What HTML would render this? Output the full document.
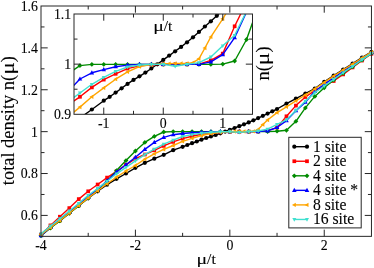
<!DOCTYPE html>
<html><head><meta charset="utf-8"><title>chart</title>
<style>
html,body{margin:0;padding:0;background:#fff;}
svg{display:block;will-change:transform;}
text{font-family:"Liberation Serif",serif;fill:#000;stroke:#000;stroke-width:0.1px;}
</style></head><body>
<svg width="374" height="268" viewBox="0 0 374 268">
<rect width="374" height="268" fill="#fff"/>
<defs>
<clipPath id="cm"><rect x="38.5" y="6.0" width="335.45" height="232.85"/></clipPath>
<clipPath id="ci"><rect x="74.0" y="14.0" width="178.5" height="100.3"/></clipPath>
</defs>
<g clip-path="url(#cm)">
<polyline points="41.00,235.20 50.44,227.70 59.88,220.70 69.32,213.30 78.77,205.80 88.21,198.30 97.65,191.30 107.09,184.70 116.53,178.80 125.97,173.50 135.41,167.80 144.86,162.80 154.30,158.70 163.74,154.80 173.18,150.20 182.62,146.80 187.34,145.00 192.06,143.20 196.78,141.50 201.50,139.70 206.22,138.00 210.95,136.50 215.67,135.00 220.39,133.30 225.11,131.60 229.83,129.80 234.55,128.00 239.27,126.20 243.99,124.30 248.71,122.40 253.43,120.30 258.15,118.10 262.87,115.80 267.59,113.60 272.32,111.30 277.04,109.00 286.48,103.60 295.92,98.60 305.36,93.50 314.80,88.50 324.24,81.90 333.68,75.60 343.13,69.60 352.57,63.70 362.01,57.60 371.45,51.80" fill="none" stroke="#000000" stroke-width="1.4" stroke-linejoin="round"/>
<circle cx="41.00" cy="235.20" r="2.10" fill="#000000"/>
<circle cx="50.44" cy="227.70" r="2.10" fill="#000000"/>
<circle cx="59.88" cy="220.70" r="2.10" fill="#000000"/>
<circle cx="69.32" cy="213.30" r="2.10" fill="#000000"/>
<circle cx="78.77" cy="205.80" r="2.10" fill="#000000"/>
<circle cx="88.21" cy="198.30" r="2.10" fill="#000000"/>
<circle cx="97.65" cy="191.30" r="2.10" fill="#000000"/>
<circle cx="107.09" cy="184.70" r="2.10" fill="#000000"/>
<circle cx="116.53" cy="178.80" r="2.10" fill="#000000"/>
<circle cx="125.97" cy="173.50" r="2.10" fill="#000000"/>
<circle cx="135.41" cy="167.80" r="2.10" fill="#000000"/>
<circle cx="144.86" cy="162.80" r="2.10" fill="#000000"/>
<circle cx="154.30" cy="158.70" r="2.10" fill="#000000"/>
<circle cx="163.74" cy="154.80" r="2.10" fill="#000000"/>
<circle cx="173.18" cy="150.20" r="2.10" fill="#000000"/>
<circle cx="182.62" cy="146.80" r="2.10" fill="#000000"/>
<circle cx="187.34" cy="145.00" r="2.10" fill="#000000"/>
<circle cx="192.06" cy="143.20" r="2.10" fill="#000000"/>
<circle cx="196.78" cy="141.50" r="2.10" fill="#000000"/>
<circle cx="201.50" cy="139.70" r="2.10" fill="#000000"/>
<circle cx="206.22" cy="138.00" r="2.10" fill="#000000"/>
<circle cx="210.95" cy="136.50" r="2.10" fill="#000000"/>
<circle cx="215.67" cy="135.00" r="2.10" fill="#000000"/>
<circle cx="220.39" cy="133.30" r="2.10" fill="#000000"/>
<circle cx="225.11" cy="131.60" r="2.10" fill="#000000"/>
<circle cx="229.83" cy="129.80" r="2.10" fill="#000000"/>
<circle cx="234.55" cy="128.00" r="2.10" fill="#000000"/>
<circle cx="239.27" cy="126.20" r="2.10" fill="#000000"/>
<circle cx="243.99" cy="124.30" r="2.10" fill="#000000"/>
<circle cx="248.71" cy="122.40" r="2.10" fill="#000000"/>
<circle cx="253.43" cy="120.30" r="2.10" fill="#000000"/>
<circle cx="258.15" cy="118.10" r="2.10" fill="#000000"/>
<circle cx="262.87" cy="115.80" r="2.10" fill="#000000"/>
<circle cx="267.59" cy="113.60" r="2.10" fill="#000000"/>
<circle cx="272.32" cy="111.30" r="2.10" fill="#000000"/>
<circle cx="277.04" cy="109.00" r="2.10" fill="#000000"/>
<circle cx="286.48" cy="103.60" r="2.10" fill="#000000"/>
<circle cx="295.92" cy="98.60" r="2.10" fill="#000000"/>
<circle cx="305.36" cy="93.50" r="2.10" fill="#000000"/>
<circle cx="314.80" cy="88.50" r="2.10" fill="#000000"/>
<circle cx="324.24" cy="81.90" r="2.10" fill="#000000"/>
<circle cx="333.68" cy="75.60" r="2.10" fill="#000000"/>
<circle cx="343.13" cy="69.60" r="2.10" fill="#000000"/>
<circle cx="352.57" cy="63.70" r="2.10" fill="#000000"/>
<circle cx="362.01" cy="57.60" r="2.10" fill="#000000"/>
<circle cx="371.45" cy="51.80" r="2.10" fill="#000000"/>
<polyline points="41.00,234.60 50.44,225.40 59.88,216.70 69.32,208.10 78.77,199.10 88.21,191.30 97.65,184.50 107.09,177.60 116.53,171.40 125.97,164.80 135.41,158.60 144.86,154.50 154.30,150.30 163.74,145.90 173.18,141.90 182.62,138.60 192.06,136.20 201.50,134.30 210.95,133.00 220.39,132.30 229.83,131.80 239.27,131.60 248.71,131.60 258.15,131.50 267.59,130.60 277.04,127.60 286.48,116.30 295.92,105.60 305.36,97.00 314.80,90.60 324.24,85.80 333.68,81.00 343.13,74.40 352.57,67.40 362.01,60.50 371.45,53.80" fill="none" stroke="#ff0000" stroke-width="1.4" stroke-linejoin="round"/>
<rect x="39.15" y="232.75" width="3.70" height="3.70" fill="#ff0000"/>
<rect x="48.59" y="223.55" width="3.70" height="3.70" fill="#ff0000"/>
<rect x="58.03" y="214.85" width="3.70" height="3.70" fill="#ff0000"/>
<rect x="67.47" y="206.25" width="3.70" height="3.70" fill="#ff0000"/>
<rect x="76.92" y="197.25" width="3.70" height="3.70" fill="#ff0000"/>
<rect x="86.36" y="189.45" width="3.70" height="3.70" fill="#ff0000"/>
<rect x="95.80" y="182.65" width="3.70" height="3.70" fill="#ff0000"/>
<rect x="105.24" y="175.75" width="3.70" height="3.70" fill="#ff0000"/>
<rect x="114.68" y="169.55" width="3.70" height="3.70" fill="#ff0000"/>
<rect x="124.12" y="162.95" width="3.70" height="3.70" fill="#ff0000"/>
<rect x="133.56" y="156.75" width="3.70" height="3.70" fill="#ff0000"/>
<rect x="143.01" y="152.65" width="3.70" height="3.70" fill="#ff0000"/>
<rect x="152.45" y="148.45" width="3.70" height="3.70" fill="#ff0000"/>
<rect x="161.89" y="144.05" width="3.70" height="3.70" fill="#ff0000"/>
<rect x="171.33" y="140.05" width="3.70" height="3.70" fill="#ff0000"/>
<rect x="180.77" y="136.75" width="3.70" height="3.70" fill="#ff0000"/>
<rect x="190.21" y="134.35" width="3.70" height="3.70" fill="#ff0000"/>
<rect x="199.65" y="132.45" width="3.70" height="3.70" fill="#ff0000"/>
<rect x="209.10" y="131.15" width="3.70" height="3.70" fill="#ff0000"/>
<rect x="218.54" y="130.45" width="3.70" height="3.70" fill="#ff0000"/>
<rect x="227.98" y="129.95" width="3.70" height="3.70" fill="#ff0000"/>
<rect x="237.42" y="129.75" width="3.70" height="3.70" fill="#ff0000"/>
<rect x="246.86" y="129.75" width="3.70" height="3.70" fill="#ff0000"/>
<rect x="256.30" y="129.65" width="3.70" height="3.70" fill="#ff0000"/>
<rect x="265.74" y="128.75" width="3.70" height="3.70" fill="#ff0000"/>
<rect x="275.19" y="125.75" width="3.70" height="3.70" fill="#ff0000"/>
<rect x="284.63" y="114.45" width="3.70" height="3.70" fill="#ff0000"/>
<rect x="294.07" y="103.75" width="3.70" height="3.70" fill="#ff0000"/>
<rect x="303.51" y="95.15" width="3.70" height="3.70" fill="#ff0000"/>
<rect x="312.95" y="88.75" width="3.70" height="3.70" fill="#ff0000"/>
<rect x="322.39" y="83.95" width="3.70" height="3.70" fill="#ff0000"/>
<rect x="331.83" y="79.15" width="3.70" height="3.70" fill="#ff0000"/>
<rect x="341.28" y="72.55" width="3.70" height="3.70" fill="#ff0000"/>
<rect x="350.72" y="65.55" width="3.70" height="3.70" fill="#ff0000"/>
<rect x="360.16" y="58.65" width="3.70" height="3.70" fill="#ff0000"/>
<rect x="369.60" y="51.95" width="3.70" height="3.70" fill="#ff0000"/>
<polyline points="41.00,235.80 50.44,228.00 59.88,220.90 69.32,213.10 78.77,205.60 88.21,197.90 97.65,190.10 107.09,181.20 116.53,170.60 125.97,160.60 135.41,151.00 144.86,142.40 154.30,136.40 163.74,132.00 173.18,131.60 182.62,131.60 192.06,131.60 201.50,131.60 210.95,131.60 220.39,131.60 229.83,131.60 239.27,131.60 248.71,131.60 258.15,131.60 267.59,131.60 277.04,131.20 286.48,130.30 295.92,121.30 305.36,107.90 314.80,96.40 324.24,87.80 333.68,80.00 343.13,73.30 352.57,66.80 362.01,60.00 371.45,53.40" fill="none" stroke="#008b00" stroke-width="1.4" stroke-linejoin="round"/>
<path d="M38.60 235.80L41.00 233.40L43.40 235.80L41.00 238.20Z" fill="#008b00"/>
<path d="M48.04 228.00L50.44 225.60L52.84 228.00L50.44 230.40Z" fill="#008b00"/>
<path d="M57.48 220.90L59.88 218.50L62.28 220.90L59.88 223.30Z" fill="#008b00"/>
<path d="M66.92 213.10L69.32 210.70L71.72 213.10L69.32 215.50Z" fill="#008b00"/>
<path d="M76.37 205.60L78.77 203.20L81.17 205.60L78.77 208.00Z" fill="#008b00"/>
<path d="M85.81 197.90L88.21 195.50L90.61 197.90L88.21 200.30Z" fill="#008b00"/>
<path d="M95.25 190.10L97.65 187.70L100.05 190.10L97.65 192.50Z" fill="#008b00"/>
<path d="M104.69 181.20L107.09 178.80L109.49 181.20L107.09 183.60Z" fill="#008b00"/>
<path d="M114.13 170.60L116.53 168.20L118.93 170.60L116.53 173.00Z" fill="#008b00"/>
<path d="M123.57 160.60L125.97 158.20L128.37 160.60L125.97 163.00Z" fill="#008b00"/>
<path d="M133.01 151.00L135.41 148.60L137.81 151.00L135.41 153.40Z" fill="#008b00"/>
<path d="M142.46 142.40L144.86 140.00L147.26 142.40L144.86 144.80Z" fill="#008b00"/>
<path d="M151.90 136.40L154.30 134.00L156.70 136.40L154.30 138.80Z" fill="#008b00"/>
<path d="M161.34 132.00L163.74 129.60L166.14 132.00L163.74 134.40Z" fill="#008b00"/>
<path d="M170.78 131.60L173.18 129.20L175.58 131.60L173.18 134.00Z" fill="#008b00"/>
<path d="M180.22 131.60L182.62 129.20L185.02 131.60L182.62 134.00Z" fill="#008b00"/>
<path d="M189.66 131.60L192.06 129.20L194.46 131.60L192.06 134.00Z" fill="#008b00"/>
<path d="M199.10 131.60L201.50 129.20L203.90 131.60L201.50 134.00Z" fill="#008b00"/>
<path d="M208.55 131.60L210.95 129.20L213.35 131.60L210.95 134.00Z" fill="#008b00"/>
<path d="M217.99 131.60L220.39 129.20L222.79 131.60L220.39 134.00Z" fill="#008b00"/>
<path d="M227.43 131.60L229.83 129.20L232.23 131.60L229.83 134.00Z" fill="#008b00"/>
<path d="M236.87 131.60L239.27 129.20L241.67 131.60L239.27 134.00Z" fill="#008b00"/>
<path d="M246.31 131.60L248.71 129.20L251.11 131.60L248.71 134.00Z" fill="#008b00"/>
<path d="M255.75 131.60L258.15 129.20L260.55 131.60L258.15 134.00Z" fill="#008b00"/>
<path d="M265.19 131.60L267.59 129.20L269.99 131.60L267.59 134.00Z" fill="#008b00"/>
<path d="M274.64 131.20L277.04 128.80L279.44 131.20L277.04 133.60Z" fill="#008b00"/>
<path d="M284.08 130.30L286.48 127.90L288.88 130.30L286.48 132.70Z" fill="#008b00"/>
<path d="M293.52 121.30L295.92 118.90L298.32 121.30L295.92 123.70Z" fill="#008b00"/>
<path d="M302.96 107.90L305.36 105.50L307.76 107.90L305.36 110.30Z" fill="#008b00"/>
<path d="M312.40 96.40L314.80 94.00L317.20 96.40L314.80 98.80Z" fill="#008b00"/>
<path d="M321.84 87.80L324.24 85.40L326.64 87.80L324.24 90.20Z" fill="#008b00"/>
<path d="M331.28 80.00L333.68 77.60L336.08 80.00L333.68 82.40Z" fill="#008b00"/>
<path d="M340.73 73.30L343.13 70.90L345.53 73.30L343.13 75.70Z" fill="#008b00"/>
<path d="M350.17 66.80L352.57 64.40L354.97 66.80L352.57 69.20Z" fill="#008b00"/>
<path d="M359.61 60.00L362.01 57.60L364.41 60.00L362.01 62.40Z" fill="#008b00"/>
<path d="M369.05 53.40L371.45 51.00L373.85 53.40L371.45 55.80Z" fill="#008b00"/>
<polyline points="41.00,235.60 50.44,227.30 59.88,219.40 69.32,211.90 78.77,204.30 88.21,196.70 97.65,189.20 107.09,180.70 116.53,172.00 125.97,164.70 135.41,157.20 144.86,149.40 154.30,142.40 163.74,137.30 173.18,134.70 182.62,133.50 192.06,132.80 201.50,132.20 210.95,131.80 220.39,131.60 229.83,131.60 239.27,131.60 248.71,131.60 258.15,131.60 267.59,130.80 277.04,127.50 286.48,120.60 295.92,110.70 305.36,102.20 314.80,91.20 324.24,84.20 333.68,77.80 343.13,71.20 352.57,64.80 362.01,58.60 371.45,52.60" fill="none" stroke="#0000ff" stroke-width="1.4" stroke-linejoin="round"/>
<path d="M38.70 237.21L43.30 237.21L41.00 233.07Z" fill="#0000ff"/>
<path d="M48.14 228.91L52.74 228.91L50.44 224.77Z" fill="#0000ff"/>
<path d="M57.58 221.01L62.18 221.01L59.88 216.87Z" fill="#0000ff"/>
<path d="M67.02 213.51L71.62 213.51L69.32 209.37Z" fill="#0000ff"/>
<path d="M76.47 205.91L81.07 205.91L78.77 201.77Z" fill="#0000ff"/>
<path d="M85.91 198.31L90.51 198.31L88.21 194.17Z" fill="#0000ff"/>
<path d="M95.35 190.81L99.95 190.81L97.65 186.67Z" fill="#0000ff"/>
<path d="M104.79 182.31L109.39 182.31L107.09 178.17Z" fill="#0000ff"/>
<path d="M114.23 173.61L118.83 173.61L116.53 169.47Z" fill="#0000ff"/>
<path d="M123.67 166.31L128.27 166.31L125.97 162.17Z" fill="#0000ff"/>
<path d="M133.11 158.81L137.71 158.81L135.41 154.67Z" fill="#0000ff"/>
<path d="M142.56 151.01L147.16 151.01L144.86 146.87Z" fill="#0000ff"/>
<path d="M152.00 144.01L156.60 144.01L154.30 139.87Z" fill="#0000ff"/>
<path d="M161.44 138.91L166.04 138.91L163.74 134.77Z" fill="#0000ff"/>
<path d="M170.88 136.31L175.48 136.31L173.18 132.17Z" fill="#0000ff"/>
<path d="M180.32 135.11L184.92 135.11L182.62 130.97Z" fill="#0000ff"/>
<path d="M189.76 134.41L194.36 134.41L192.06 130.27Z" fill="#0000ff"/>
<path d="M199.20 133.81L203.80 133.81L201.50 129.67Z" fill="#0000ff"/>
<path d="M208.65 133.41L213.25 133.41L210.95 129.27Z" fill="#0000ff"/>
<path d="M218.09 133.21L222.69 133.21L220.39 129.07Z" fill="#0000ff"/>
<path d="M227.53 133.21L232.13 133.21L229.83 129.07Z" fill="#0000ff"/>
<path d="M236.97 133.21L241.57 133.21L239.27 129.07Z" fill="#0000ff"/>
<path d="M246.41 133.21L251.01 133.21L248.71 129.07Z" fill="#0000ff"/>
<path d="M255.85 133.21L260.45 133.21L258.15 129.07Z" fill="#0000ff"/>
<path d="M265.29 132.41L269.89 132.41L267.59 128.27Z" fill="#0000ff"/>
<path d="M274.74 129.11L279.34 129.11L277.04 124.97Z" fill="#0000ff"/>
<path d="M284.18 122.21L288.78 122.21L286.48 118.07Z" fill="#0000ff"/>
<path d="M293.62 112.31L298.22 112.31L295.92 108.17Z" fill="#0000ff"/>
<path d="M303.06 103.81L307.66 103.81L305.36 99.67Z" fill="#0000ff"/>
<path d="M312.50 92.81L317.10 92.81L314.80 88.67Z" fill="#0000ff"/>
<path d="M321.94 85.81L326.54 85.81L324.24 81.67Z" fill="#0000ff"/>
<path d="M331.38 79.41L335.98 79.41L333.68 75.27Z" fill="#0000ff"/>
<path d="M340.83 72.81L345.43 72.81L343.13 68.67Z" fill="#0000ff"/>
<path d="M350.27 66.41L354.87 66.41L352.57 62.27Z" fill="#0000ff"/>
<path d="M359.71 60.21L364.31 60.21L362.01 56.07Z" fill="#0000ff"/>
<path d="M369.15 54.21L373.75 54.21L371.45 50.07Z" fill="#0000ff"/>
<polyline points="41.00,234.70 50.44,227.50 59.88,220.50 69.32,213.00 78.77,205.50 88.21,197.90 97.65,190.80 107.09,183.80 116.53,177.10 125.97,171.00 135.41,165.50 144.86,159.20 154.30,153.80 163.74,149.40 173.18,145.50 182.62,141.40 192.06,138.30 201.50,135.50 210.95,133.50 220.39,132.30 229.83,131.70 234.55,131.50 239.27,131.50 243.99,131.50 248.71,131.50 253.43,131.30 258.15,129.50 262.87,124.60 267.59,120.00 277.04,112.60 286.48,106.80 295.92,100.90 305.36,95.00 314.80,89.00 324.24,82.40 333.68,76.10 343.13,70.00 352.57,64.10 362.01,58.00 371.45,52.10" fill="none" stroke="#ffa500" stroke-width="1.4" stroke-linejoin="round"/>
<path d="M42.51 232.55L42.51 236.85L38.63 234.70Z" fill="#ffa500"/>
<path d="M51.95 225.35L51.95 229.65L48.08 227.50Z" fill="#ffa500"/>
<path d="M61.39 218.35L61.39 222.65L57.52 220.50Z" fill="#ffa500"/>
<path d="M70.83 210.85L70.83 215.15L66.96 213.00Z" fill="#ffa500"/>
<path d="M80.27 203.35L80.27 207.65L76.40 205.50Z" fill="#ffa500"/>
<path d="M89.71 195.75L89.71 200.05L85.84 197.90Z" fill="#ffa500"/>
<path d="M99.15 188.65L99.15 192.95L95.28 190.80Z" fill="#ffa500"/>
<path d="M108.59 181.65L108.59 185.95L104.72 183.80Z" fill="#ffa500"/>
<path d="M118.04 174.95L118.04 179.25L114.17 177.10Z" fill="#ffa500"/>
<path d="M127.48 168.85L127.48 173.15L123.61 171.00Z" fill="#ffa500"/>
<path d="M136.92 163.35L136.92 167.65L133.05 165.50Z" fill="#ffa500"/>
<path d="M146.36 157.05L146.36 161.35L142.49 159.20Z" fill="#ffa500"/>
<path d="M155.80 151.65L155.80 155.95L151.93 153.80Z" fill="#ffa500"/>
<path d="M165.24 147.25L165.24 151.55L161.37 149.40Z" fill="#ffa500"/>
<path d="M174.68 143.35L174.68 147.65L170.81 145.50Z" fill="#ffa500"/>
<path d="M184.13 139.25L184.13 143.55L180.26 141.40Z" fill="#ffa500"/>
<path d="M193.57 136.15L193.57 140.45L189.70 138.30Z" fill="#ffa500"/>
<path d="M203.01 133.35L203.01 137.65L199.14 135.50Z" fill="#ffa500"/>
<path d="M212.45 131.35L212.45 135.65L208.58 133.50Z" fill="#ffa500"/>
<path d="M221.89 130.15L221.89 134.45L218.02 132.30Z" fill="#ffa500"/>
<path d="M231.33 129.55L231.33 133.85L227.46 131.70Z" fill="#ffa500"/>
<path d="M236.05 129.35L236.05 133.65L232.18 131.50Z" fill="#ffa500"/>
<path d="M240.78 129.35L240.78 133.65L236.91 131.50Z" fill="#ffa500"/>
<path d="M245.50 129.35L245.50 133.65L241.63 131.50Z" fill="#ffa500"/>
<path d="M250.22 129.35L250.22 133.65L246.35 131.50Z" fill="#ffa500"/>
<path d="M254.94 129.15L254.94 133.45L251.07 131.30Z" fill="#ffa500"/>
<path d="M259.66 127.35L259.66 131.65L255.79 129.50Z" fill="#ffa500"/>
<path d="M264.38 122.45L264.38 126.75L260.51 124.60Z" fill="#ffa500"/>
<path d="M269.10 117.85L269.10 122.15L265.23 120.00Z" fill="#ffa500"/>
<path d="M278.54 110.45L278.54 114.75L274.67 112.60Z" fill="#ffa500"/>
<path d="M287.98 104.65L287.98 108.95L284.11 106.80Z" fill="#ffa500"/>
<path d="M297.42 98.75L297.42 103.05L293.55 100.90Z" fill="#ffa500"/>
<path d="M306.86 92.85L306.86 97.15L302.99 95.00Z" fill="#ffa500"/>
<path d="M316.31 86.85L316.31 91.15L312.44 89.00Z" fill="#ffa500"/>
<path d="M325.75 80.25L325.75 84.55L321.88 82.40Z" fill="#ffa500"/>
<path d="M335.19 73.95L335.19 78.25L331.32 76.10Z" fill="#ffa500"/>
<path d="M344.63 67.85L344.63 72.15L340.76 70.00Z" fill="#ffa500"/>
<path d="M354.07 61.95L354.07 66.25L350.20 64.10Z" fill="#ffa500"/>
<path d="M363.51 55.85L363.51 60.15L359.64 58.00Z" fill="#ffa500"/>
<path d="M372.95 49.95L372.95 54.25L369.08 52.10Z" fill="#ffa500"/>
<polyline points="41.00,233.80 50.44,226.00 59.88,218.60 69.32,211.00 78.77,203.30 88.21,195.30 97.65,188.50 107.09,181.30 116.53,173.80 125.97,167.30 135.41,160.80 144.86,154.60 154.30,149.10 163.74,144.10 173.18,140.20 182.62,136.50 192.06,134.60 201.50,133.20 210.95,132.20 220.39,131.70 229.83,131.60 239.27,132.40 248.71,131.60 258.15,131.00 267.59,129.10 277.04,124.40 286.48,119.80 295.92,110.50 305.36,101.10 314.80,92.80 324.24,86.00 333.68,79.50 343.13,72.80 352.57,66.40 362.01,59.70 371.45,53.40" fill="none" stroke="#40e0d0" stroke-width="1.4" stroke-linejoin="round"/>
<path d="M39.00 232.40L43.00 232.40L41.00 236.00Z" fill="#40e0d0"/>
<path d="M48.44 224.60L52.44 224.60L50.44 228.20Z" fill="#40e0d0"/>
<path d="M57.88 217.20L61.88 217.20L59.88 220.80Z" fill="#40e0d0"/>
<path d="M67.32 209.60L71.32 209.60L69.32 213.20Z" fill="#40e0d0"/>
<path d="M76.77 201.90L80.77 201.90L78.77 205.50Z" fill="#40e0d0"/>
<path d="M86.21 193.90L90.21 193.90L88.21 197.50Z" fill="#40e0d0"/>
<path d="M95.65 187.10L99.65 187.10L97.65 190.70Z" fill="#40e0d0"/>
<path d="M105.09 179.90L109.09 179.90L107.09 183.50Z" fill="#40e0d0"/>
<path d="M114.53 172.40L118.53 172.40L116.53 176.00Z" fill="#40e0d0"/>
<path d="M123.97 165.90L127.97 165.90L125.97 169.50Z" fill="#40e0d0"/>
<path d="M133.41 159.40L137.41 159.40L135.41 163.00Z" fill="#40e0d0"/>
<path d="M142.86 153.20L146.86 153.20L144.86 156.80Z" fill="#40e0d0"/>
<path d="M152.30 147.70L156.30 147.70L154.30 151.30Z" fill="#40e0d0"/>
<path d="M161.74 142.70L165.74 142.70L163.74 146.30Z" fill="#40e0d0"/>
<path d="M171.18 138.80L175.18 138.80L173.18 142.40Z" fill="#40e0d0"/>
<path d="M180.62 135.10L184.62 135.10L182.62 138.70Z" fill="#40e0d0"/>
<path d="M190.06 133.20L194.06 133.20L192.06 136.80Z" fill="#40e0d0"/>
<path d="M199.50 131.80L203.50 131.80L201.50 135.40Z" fill="#40e0d0"/>
<path d="M208.95 130.80L212.95 130.80L210.95 134.40Z" fill="#40e0d0"/>
<path d="M218.39 130.30L222.39 130.30L220.39 133.90Z" fill="#40e0d0"/>
<path d="M227.83 130.20L231.83 130.20L229.83 133.80Z" fill="#40e0d0"/>
<path d="M237.27 131.00L241.27 131.00L239.27 134.60Z" fill="#40e0d0"/>
<path d="M246.71 130.20L250.71 130.20L248.71 133.80Z" fill="#40e0d0"/>
<path d="M256.15 129.60L260.15 129.60L258.15 133.20Z" fill="#40e0d0"/>
<path d="M265.59 127.70L269.59 127.70L267.59 131.30Z" fill="#40e0d0"/>
<path d="M275.04 123.00L279.04 123.00L277.04 126.60Z" fill="#40e0d0"/>
<path d="M284.48 118.40L288.48 118.40L286.48 122.00Z" fill="#40e0d0"/>
<path d="M293.92 109.10L297.92 109.10L295.92 112.70Z" fill="#40e0d0"/>
<path d="M303.36 99.70L307.36 99.70L305.36 103.30Z" fill="#40e0d0"/>
<path d="M312.80 91.40L316.80 91.40L314.80 95.00Z" fill="#40e0d0"/>
<path d="M322.24 84.60L326.24 84.60L324.24 88.20Z" fill="#40e0d0"/>
<path d="M331.68 78.10L335.68 78.10L333.68 81.70Z" fill="#40e0d0"/>
<path d="M341.13 71.40L345.13 71.40L343.13 75.00Z" fill="#40e0d0"/>
<path d="M350.57 65.00L354.57 65.00L352.57 68.60Z" fill="#40e0d0"/>
<path d="M360.01 58.30L364.01 58.30L362.01 61.90Z" fill="#40e0d0"/>
<path d="M369.45 52.00L373.45 52.00L371.45 55.60Z" fill="#40e0d0"/>
</g>
<rect x="74.0" y="14.0" width="178.5" height="100.3" fill="#fff"/>
<g clip-path="url(#ci)">
<polyline points="79.95,118.00 91.85,109.50 103.75,100.70 109.70,96.80 115.65,92.60 121.60,88.30 127.55,83.90 133.50,79.90 139.45,76.30 145.40,72.60 151.35,68.50 157.30,64.30 163.25,59.90 169.20,55.60 175.15,51.30 181.10,46.90 187.05,42.30 193.00,37.30 198.95,31.90 204.90,26.50 210.85,21.30 216.80,15.80 222.75,10.00" fill="none" stroke="#000000" stroke-width="1.4" stroke-linejoin="round"/>
<circle cx="79.95" cy="118.00" r="2.10" fill="#000000"/>
<circle cx="91.85" cy="109.50" r="2.10" fill="#000000"/>
<circle cx="103.75" cy="100.70" r="2.10" fill="#000000"/>
<circle cx="109.70" cy="96.80" r="2.10" fill="#000000"/>
<circle cx="115.65" cy="92.60" r="2.10" fill="#000000"/>
<circle cx="121.60" cy="88.30" r="2.10" fill="#000000"/>
<circle cx="127.55" cy="83.90" r="2.10" fill="#000000"/>
<circle cx="133.50" cy="79.90" r="2.10" fill="#000000"/>
<circle cx="139.45" cy="76.30" r="2.10" fill="#000000"/>
<circle cx="145.40" cy="72.60" r="2.10" fill="#000000"/>
<circle cx="151.35" cy="68.50" r="2.10" fill="#000000"/>
<circle cx="157.30" cy="64.30" r="2.10" fill="#000000"/>
<circle cx="163.25" cy="59.90" r="2.10" fill="#000000"/>
<circle cx="169.20" cy="55.60" r="2.10" fill="#000000"/>
<circle cx="175.15" cy="51.30" r="2.10" fill="#000000"/>
<circle cx="181.10" cy="46.90" r="2.10" fill="#000000"/>
<circle cx="187.05" cy="42.30" r="2.10" fill="#000000"/>
<circle cx="193.00" cy="37.30" r="2.10" fill="#000000"/>
<circle cx="198.95" cy="31.90" r="2.10" fill="#000000"/>
<circle cx="204.90" cy="26.50" r="2.10" fill="#000000"/>
<circle cx="210.85" cy="21.30" r="2.10" fill="#000000"/>
<circle cx="216.80" cy="15.80" r="2.10" fill="#000000"/>
<circle cx="222.75" cy="10.00" r="2.10" fill="#000000"/>
<polyline points="68.05,104.80 79.95,96.80 91.85,87.40 103.75,79.60 115.65,73.80 127.55,68.60 139.45,65.70 151.35,64.80 163.25,64.40 175.15,64.40 187.05,64.40 198.95,64.20 210.85,60.30 222.75,53.60 234.65,26.30 246.55,2.00" fill="none" stroke="#ff0000" stroke-width="1.4" stroke-linejoin="round"/>
<rect x="66.20" y="102.95" width="3.70" height="3.70" fill="#ff0000"/>
<rect x="78.10" y="94.95" width="3.70" height="3.70" fill="#ff0000"/>
<rect x="90.00" y="85.55" width="3.70" height="3.70" fill="#ff0000"/>
<rect x="101.90" y="77.75" width="3.70" height="3.70" fill="#ff0000"/>
<rect x="113.80" y="71.95" width="3.70" height="3.70" fill="#ff0000"/>
<rect x="125.70" y="66.75" width="3.70" height="3.70" fill="#ff0000"/>
<rect x="137.60" y="63.85" width="3.70" height="3.70" fill="#ff0000"/>
<rect x="149.50" y="62.95" width="3.70" height="3.70" fill="#ff0000"/>
<rect x="161.40" y="62.55" width="3.70" height="3.70" fill="#ff0000"/>
<rect x="173.30" y="62.55" width="3.70" height="3.70" fill="#ff0000"/>
<rect x="185.20" y="62.55" width="3.70" height="3.70" fill="#ff0000"/>
<rect x="197.10" y="62.35" width="3.70" height="3.70" fill="#ff0000"/>
<rect x="209.00" y="58.45" width="3.70" height="3.70" fill="#ff0000"/>
<rect x="220.90" y="51.75" width="3.70" height="3.70" fill="#ff0000"/>
<rect x="232.80" y="24.45" width="3.70" height="3.70" fill="#ff0000"/>
<rect x="244.70" y="0.15" width="3.70" height="3.70" fill="#ff0000"/>
<polyline points="68.05,73.60 79.95,65.60 91.85,64.40 103.75,64.40 115.65,64.40 127.55,64.40 139.45,64.40 151.35,64.40 163.25,64.40 175.15,64.40 187.05,64.40 198.95,64.40 210.85,64.40 222.75,64.10 234.65,61.00 246.55,39.50 258.45,6.10" fill="none" stroke="#008b00" stroke-width="1.4" stroke-linejoin="round"/>
<path d="M65.65 73.60L68.05 71.20L70.45 73.60L68.05 76.00Z" fill="#008b00"/>
<path d="M77.55 65.60L79.95 63.20L82.35 65.60L79.95 68.00Z" fill="#008b00"/>
<path d="M89.45 64.40L91.85 62.00L94.25 64.40L91.85 66.80Z" fill="#008b00"/>
<path d="M101.35 64.40L103.75 62.00L106.15 64.40L103.75 66.80Z" fill="#008b00"/>
<path d="M113.25 64.40L115.65 62.00L118.05 64.40L115.65 66.80Z" fill="#008b00"/>
<path d="M125.15 64.40L127.55 62.00L129.95 64.40L127.55 66.80Z" fill="#008b00"/>
<path d="M137.05 64.40L139.45 62.00L141.85 64.40L139.45 66.80Z" fill="#008b00"/>
<path d="M148.95 64.40L151.35 62.00L153.75 64.40L151.35 66.80Z" fill="#008b00"/>
<path d="M160.85 64.40L163.25 62.00L165.65 64.40L163.25 66.80Z" fill="#008b00"/>
<path d="M172.75 64.40L175.15 62.00L177.55 64.40L175.15 66.80Z" fill="#008b00"/>
<path d="M184.65 64.40L187.05 62.00L189.45 64.40L187.05 66.80Z" fill="#008b00"/>
<path d="M196.55 64.40L198.95 62.00L201.35 64.40L198.95 66.80Z" fill="#008b00"/>
<path d="M208.45 64.40L210.85 62.00L213.25 64.40L210.85 66.80Z" fill="#008b00"/>
<path d="M220.35 64.10L222.75 61.70L225.15 64.10L222.75 66.50Z" fill="#008b00"/>
<path d="M232.25 61.00L234.65 58.60L237.05 61.00L234.65 63.40Z" fill="#008b00"/>
<path d="M244.15 39.50L246.55 37.10L248.95 39.50L246.55 41.90Z" fill="#008b00"/>
<path d="M256.05 6.10L258.45 3.70L260.85 6.10L258.45 8.50Z" fill="#008b00"/>
<polyline points="68.05,91.60 79.95,79.00 91.85,72.80 103.75,69.60 115.65,66.70 127.55,65.10 139.45,64.40 151.35,64.40 163.25,64.40 175.15,64.40 187.05,64.40 198.95,64.40 210.85,61.90 222.75,54.70 234.65,37.60 246.55,11.90 258.45,-13.00" fill="none" stroke="#0000ff" stroke-width="1.4" stroke-linejoin="round"/>
<path d="M65.75 93.21L70.35 93.21L68.05 89.07Z" fill="#0000ff"/>
<path d="M77.65 80.61L82.25 80.61L79.95 76.47Z" fill="#0000ff"/>
<path d="M89.55 74.41L94.15 74.41L91.85 70.27Z" fill="#0000ff"/>
<path d="M101.45 71.21L106.05 71.21L103.75 67.07Z" fill="#0000ff"/>
<path d="M113.35 68.31L117.95 68.31L115.65 64.17Z" fill="#0000ff"/>
<path d="M125.25 66.71L129.85 66.71L127.55 62.57Z" fill="#0000ff"/>
<path d="M137.15 66.01L141.75 66.01L139.45 61.87Z" fill="#0000ff"/>
<path d="M149.05 66.01L153.65 66.01L151.35 61.87Z" fill="#0000ff"/>
<path d="M160.95 66.01L165.55 66.01L163.25 61.87Z" fill="#0000ff"/>
<path d="M172.85 66.01L177.45 66.01L175.15 61.87Z" fill="#0000ff"/>
<path d="M184.75 66.01L189.35 66.01L187.05 61.87Z" fill="#0000ff"/>
<path d="M196.65 66.01L201.25 66.01L198.95 61.87Z" fill="#0000ff"/>
<path d="M208.55 63.51L213.15 63.51L210.85 59.37Z" fill="#0000ff"/>
<path d="M220.45 56.31L225.05 56.31L222.75 52.17Z" fill="#0000ff"/>
<path d="M232.35 39.21L236.95 39.21L234.65 35.07Z" fill="#0000ff"/>
<path d="M244.25 13.51L248.85 13.51L246.55 9.37Z" fill="#0000ff"/>
<path d="M256.15 -11.39L260.75 -11.39L258.45 -15.53Z" fill="#0000ff"/>
<polyline points="68.05,116.90 79.95,107.10 91.85,96.80 103.75,87.90 115.65,79.20 127.55,71.90 139.45,66.50 151.35,64.60 163.25,63.70 169.20,63.60 175.15,63.50 181.10,63.50 187.05,63.40 193.00,62.60 198.95,58.80 204.90,48.00 210.85,36.90 222.75,18.80 234.65,-0.90" fill="none" stroke="#ffa500" stroke-width="1.4" stroke-linejoin="round"/>
<path d="M69.55 114.75L69.55 119.05L65.69 116.90Z" fill="#ffa500"/>
<path d="M81.45 104.95L81.45 109.25L77.59 107.10Z" fill="#ffa500"/>
<path d="M93.36 94.65L93.36 98.95L89.49 96.80Z" fill="#ffa500"/>
<path d="M105.25 85.75L105.25 90.05L101.39 87.90Z" fill="#ffa500"/>
<path d="M117.16 77.05L117.16 81.35L113.29 79.20Z" fill="#ffa500"/>
<path d="M129.06 69.75L129.06 74.05L125.19 71.90Z" fill="#ffa500"/>
<path d="M140.95 64.35L140.95 68.65L137.08 66.50Z" fill="#ffa500"/>
<path d="M152.86 62.45L152.86 66.75L148.99 64.60Z" fill="#ffa500"/>
<path d="M164.75 61.55L164.75 65.85L160.88 63.70Z" fill="#ffa500"/>
<path d="M170.70 61.45L170.70 65.75L166.83 63.60Z" fill="#ffa500"/>
<path d="M176.65 61.35L176.65 65.65L172.78 63.50Z" fill="#ffa500"/>
<path d="M182.61 61.35L182.61 65.65L178.74 63.50Z" fill="#ffa500"/>
<path d="M188.56 61.25L188.56 65.55L184.69 63.40Z" fill="#ffa500"/>
<path d="M194.50 60.45L194.50 64.75L190.63 62.60Z" fill="#ffa500"/>
<path d="M200.45 56.65L200.45 60.95L196.58 58.80Z" fill="#ffa500"/>
<path d="M206.41 45.85L206.41 50.15L202.53 48.00Z" fill="#ffa500"/>
<path d="M212.35 34.75L212.35 39.05L208.48 36.90Z" fill="#ffa500"/>
<path d="M224.25 16.65L224.25 20.95L220.38 18.80Z" fill="#ffa500"/>
<path d="M236.16 -3.05L236.16 1.25L232.28 -0.90Z" fill="#ffa500"/>
<polyline points="68.05,101.60 79.95,93.00 91.85,84.30 103.75,77.30 115.65,71.40 127.55,67.00 139.45,65.00 151.35,64.40 163.25,64.40 175.15,66.30 187.05,64.40 198.95,62.60 210.85,57.00 222.75,45.80 234.65,35.30 246.55,11.20 258.45,-13.00" fill="none" stroke="#40e0d0" stroke-width="1.4" stroke-linejoin="round"/>
<path d="M66.05 100.20L70.05 100.20L68.05 103.80Z" fill="#40e0d0"/>
<path d="M77.95 91.60L81.95 91.60L79.95 95.20Z" fill="#40e0d0"/>
<path d="M89.85 82.90L93.85 82.90L91.85 86.50Z" fill="#40e0d0"/>
<path d="M101.75 75.90L105.75 75.90L103.75 79.50Z" fill="#40e0d0"/>
<path d="M113.65 70.00L117.65 70.00L115.65 73.60Z" fill="#40e0d0"/>
<path d="M125.55 65.60L129.55 65.60L127.55 69.20Z" fill="#40e0d0"/>
<path d="M137.45 63.60L141.45 63.60L139.45 67.20Z" fill="#40e0d0"/>
<path d="M149.35 63.00L153.35 63.00L151.35 66.60Z" fill="#40e0d0"/>
<path d="M161.25 63.00L165.25 63.00L163.25 66.60Z" fill="#40e0d0"/>
<path d="M173.15 64.90L177.15 64.90L175.15 68.50Z" fill="#40e0d0"/>
<path d="M185.05 63.00L189.05 63.00L187.05 66.60Z" fill="#40e0d0"/>
<path d="M196.95 61.20L200.95 61.20L198.95 64.80Z" fill="#40e0d0"/>
<path d="M208.85 55.60L212.85 55.60L210.85 59.20Z" fill="#40e0d0"/>
<path d="M220.75 44.40L224.75 44.40L222.75 48.00Z" fill="#40e0d0"/>
<path d="M232.65 33.90L236.65 33.90L234.65 37.50Z" fill="#40e0d0"/>
<path d="M244.55 9.80L248.55 9.80L246.55 13.40Z" fill="#40e0d0"/>
<path d="M256.45 -14.40L260.45 -14.40L258.45 -10.80Z" fill="#40e0d0"/>
</g>
<rect x="41.0" y="6.0" width="330.45" height="230.35" fill="none" stroke="#262626" stroke-width="1.0"/>
<line x1="88.21" y1="236.35" x2="88.21" y2="232.85" stroke="#262626" stroke-width="1.0"/>
<line x1="88.21" y1="6.00" x2="88.21" y2="9.50" stroke="#262626" stroke-width="1.0"/>
<line x1="135.41" y1="236.35" x2="135.41" y2="229.65" stroke="#262626" stroke-width="1.0"/>
<line x1="135.41" y1="6.00" x2="135.41" y2="12.70" stroke="#262626" stroke-width="1.0"/>
<line x1="182.62" y1="236.35" x2="182.62" y2="232.85" stroke="#262626" stroke-width="1.0"/>
<line x1="182.62" y1="6.00" x2="182.62" y2="9.50" stroke="#262626" stroke-width="1.0"/>
<line x1="229.83" y1="236.35" x2="229.83" y2="229.65" stroke="#262626" stroke-width="1.0"/>
<line x1="229.83" y1="6.00" x2="229.83" y2="12.70" stroke="#262626" stroke-width="1.0"/>
<line x1="277.04" y1="236.35" x2="277.04" y2="232.85" stroke="#262626" stroke-width="1.0"/>
<line x1="277.04" y1="6.00" x2="277.04" y2="9.50" stroke="#262626" stroke-width="1.0"/>
<line x1="324.24" y1="236.35" x2="324.24" y2="229.65" stroke="#262626" stroke-width="1.0"/>
<line x1="324.24" y1="6.00" x2="324.24" y2="12.70" stroke="#262626" stroke-width="1.0"/>
<line x1="41.00" y1="215.41" x2="47.70" y2="215.41" stroke="#262626" stroke-width="1.0"/>
<line x1="371.45" y1="215.41" x2="364.75" y2="215.41" stroke="#262626" stroke-width="1.0"/>
<line x1="41.00" y1="194.47" x2="44.50" y2="194.47" stroke="#262626" stroke-width="1.0"/>
<line x1="371.45" y1="194.47" x2="367.95" y2="194.47" stroke="#262626" stroke-width="1.0"/>
<line x1="41.00" y1="173.53" x2="47.70" y2="173.53" stroke="#262626" stroke-width="1.0"/>
<line x1="371.45" y1="173.53" x2="364.75" y2="173.53" stroke="#262626" stroke-width="1.0"/>
<line x1="41.00" y1="152.59" x2="44.50" y2="152.59" stroke="#262626" stroke-width="1.0"/>
<line x1="371.45" y1="152.59" x2="367.95" y2="152.59" stroke="#262626" stroke-width="1.0"/>
<line x1="41.00" y1="131.65" x2="47.70" y2="131.65" stroke="#262626" stroke-width="1.0"/>
<line x1="371.45" y1="131.65" x2="364.75" y2="131.65" stroke="#262626" stroke-width="1.0"/>
<line x1="41.00" y1="110.70" x2="44.50" y2="110.70" stroke="#262626" stroke-width="1.0"/>
<line x1="371.45" y1="110.70" x2="367.95" y2="110.70" stroke="#262626" stroke-width="1.0"/>
<line x1="41.00" y1="89.76" x2="47.70" y2="89.76" stroke="#262626" stroke-width="1.0"/>
<line x1="371.45" y1="89.76" x2="364.75" y2="89.76" stroke="#262626" stroke-width="1.0"/>
<line x1="41.00" y1="68.82" x2="44.50" y2="68.82" stroke="#262626" stroke-width="1.0"/>
<line x1="371.45" y1="68.82" x2="367.95" y2="68.82" stroke="#262626" stroke-width="1.0"/>
<line x1="41.00" y1="47.88" x2="47.70" y2="47.88" stroke="#262626" stroke-width="1.0"/>
<line x1="371.45" y1="47.88" x2="364.75" y2="47.88" stroke="#262626" stroke-width="1.0"/>
<line x1="41.00" y1="26.94" x2="44.50" y2="26.94" stroke="#262626" stroke-width="1.0"/>
<line x1="371.45" y1="26.94" x2="367.95" y2="26.94" stroke="#262626" stroke-width="1.0"/>
<rect x="74.0" y="14.0" width="178.5" height="100.3" fill="none" stroke="#262626" stroke-width="1.0"/>
<line x1="103.75" y1="114.30" x2="103.75" y2="107.60" stroke="#262626" stroke-width="1.0"/>
<line x1="103.75" y1="14.00" x2="103.75" y2="20.70" stroke="#262626" stroke-width="1.0"/>
<line x1="133.50" y1="114.30" x2="133.50" y2="110.80" stroke="#262626" stroke-width="1.0"/>
<line x1="133.50" y1="14.00" x2="133.50" y2="17.50" stroke="#262626" stroke-width="1.0"/>
<line x1="163.25" y1="114.30" x2="163.25" y2="107.60" stroke="#262626" stroke-width="1.0"/>
<line x1="163.25" y1="14.00" x2="163.25" y2="20.70" stroke="#262626" stroke-width="1.0"/>
<line x1="193.00" y1="114.30" x2="193.00" y2="110.80" stroke="#262626" stroke-width="1.0"/>
<line x1="193.00" y1="14.00" x2="193.00" y2="17.50" stroke="#262626" stroke-width="1.0"/>
<line x1="222.75" y1="114.30" x2="222.75" y2="107.60" stroke="#262626" stroke-width="1.0"/>
<line x1="222.75" y1="14.00" x2="222.75" y2="20.70" stroke="#262626" stroke-width="1.0"/>
<line x1="74.00" y1="89.23" x2="77.50" y2="89.23" stroke="#262626" stroke-width="1.0"/>
<line x1="252.50" y1="89.23" x2="249.00" y2="89.23" stroke="#262626" stroke-width="1.0"/>
<line x1="74.00" y1="64.15" x2="80.70" y2="64.15" stroke="#262626" stroke-width="1.0"/>
<line x1="252.50" y1="64.15" x2="245.80" y2="64.15" stroke="#262626" stroke-width="1.0"/>
<line x1="74.00" y1="39.08" x2="77.50" y2="39.08" stroke="#262626" stroke-width="1.0"/>
<line x1="252.50" y1="39.08" x2="249.00" y2="39.08" stroke="#262626" stroke-width="1.0"/>
<text x="41.00" y="250.00" font-size="13.8" text-anchor="middle" >-4</text>
<text x="135.41" y="250.00" font-size="13.8" text-anchor="middle" >-2</text>
<text x="229.83" y="250.00" font-size="13.8" text-anchor="middle" >0</text>
<text x="324.24" y="250.00" font-size="13.8" text-anchor="middle" >2</text>
<text x="37.90" y="220.31" font-size="13.8" text-anchor="end" >0.6</text>
<text x="37.90" y="178.43" font-size="13.8" text-anchor="end" >0.8</text>
<text x="37.90" y="136.55" font-size="13.8" text-anchor="end" >1</text>
<text x="37.90" y="94.66" font-size="13.8" text-anchor="end" >1.2</text>
<text x="37.90" y="52.78" font-size="13.8" text-anchor="end" >1.4</text>
<text x="37.90" y="10.90" font-size="13.8" text-anchor="end" >1.6</text>
<text x="103.75" y="127.50" font-size="13.8" text-anchor="middle" >-1</text>
<text x="163.25" y="127.50" font-size="13.8" text-anchor="middle" >0</text>
<text x="222.75" y="127.50" font-size="13.8" text-anchor="middle" >1</text>
<text x="71.20" y="119.20" font-size="13.8" text-anchor="end" >0.9</text>
<text x="71.20" y="69.05" font-size="13.8" text-anchor="end" >1</text>
<text x="71.20" y="18.90" font-size="13.8" text-anchor="end" >1.1</text>
<g transform="translate(206.10,264.00)"><text transform="translate(-9.62,0) scale(1.28,1)" x="0" y="0" font-size="15.5">μ</text><text x="1.01" y="0" font-size="15.5" xml:space="preserve">/t</text></g>
<g transform="translate(162.80,30.80)"><text transform="translate(-9.62,0) scale(1.28,1)" x="0" y="0" font-size="15.5">μ</text><text x="1.01" y="0" font-size="15.5" xml:space="preserve">/t</text></g>
<g transform="translate(13.60,120.60) rotate(-90)"><text x="-64.57" y="0" font-size="18.4" xml:space="preserve">total&#160;density&#160;n(</text><text transform="translate(45.81,0) scale(1.28,1)" x="0" y="0" font-size="18.4">μ</text><text x="58.44" y="0" font-size="18.4" xml:space="preserve">)</text></g>
<g transform="translate(268.50,63.50) rotate(-90)"><text x="-17.04" y="0" font-size="18.4" xml:space="preserve">n(</text><text transform="translate(-1.71,0) scale(1.28,1)" x="0" y="0" font-size="18.4">μ</text><text x="10.91" y="0" font-size="18.4" xml:space="preserve">)</text></g>
<rect x="288.8" y="137.3" width="72.39999999999998" height="90.6" fill="#fff" stroke="#262626" stroke-width="1.0"/>
<line x1="294.3" y1="146.7" x2="307.0" y2="146.7" stroke="#000000" stroke-width="1.4"/>
<circle cx="294.30" cy="146.70" r="2.10" fill="#000000"/>
<circle cx="307.00" cy="146.70" r="2.10" fill="#000000"/>
<text x="312.90" y="151.60" font-size="15.7" text-anchor="start" >1 site</text>
<line x1="294.3" y1="161.25" x2="307.0" y2="161.25" stroke="#ff0000" stroke-width="1.4"/>
<rect x="292.45" y="159.40" width="3.70" height="3.70" fill="#ff0000"/>
<rect x="305.15" y="159.40" width="3.70" height="3.70" fill="#ff0000"/>
<text x="312.90" y="166.15" font-size="15.7" text-anchor="start" >2 site</text>
<line x1="294.3" y1="175.8" x2="307.0" y2="175.8" stroke="#008b00" stroke-width="1.4"/>
<path d="M291.90 175.80L294.30 173.40L296.70 175.80L294.30 178.20Z" fill="#008b00"/>
<path d="M304.60 175.80L307.00 173.40L309.40 175.80L307.00 178.20Z" fill="#008b00"/>
<text x="312.90" y="180.70" font-size="15.7" text-anchor="start" >4 site</text>
<line x1="294.3" y1="190.35" x2="307.0" y2="190.35" stroke="#0000ff" stroke-width="1.4"/>
<path d="M292.00 191.96L296.60 191.96L294.30 187.82Z" fill="#0000ff"/>
<path d="M304.70 191.96L309.30 191.96L307.00 187.82Z" fill="#0000ff"/>
<text x="312.90" y="195.25" font-size="15.7" text-anchor="start" >4 site *</text>
<line x1="294.3" y1="204.9" x2="307.0" y2="204.9" stroke="#ffa500" stroke-width="1.4"/>
<path d="M295.81 202.75L295.81 207.05L291.94 204.90Z" fill="#ffa500"/>
<path d="M308.50 202.75L308.50 207.05L304.63 204.90Z" fill="#ffa500"/>
<text x="312.90" y="209.80" font-size="15.7" text-anchor="start" >8 site</text>
<line x1="294.3" y1="219.45" x2="307.0" y2="219.45" stroke="#40e0d0" stroke-width="1.4"/>
<path d="M292.30 218.05L296.30 218.05L294.30 221.65Z" fill="#40e0d0"/>
<path d="M305.00 218.05L309.00 218.05L307.00 221.65Z" fill="#40e0d0"/>
<text x="312.90" y="224.35" font-size="15.7" text-anchor="start" >16 site</text>
</svg>
</body></html>
